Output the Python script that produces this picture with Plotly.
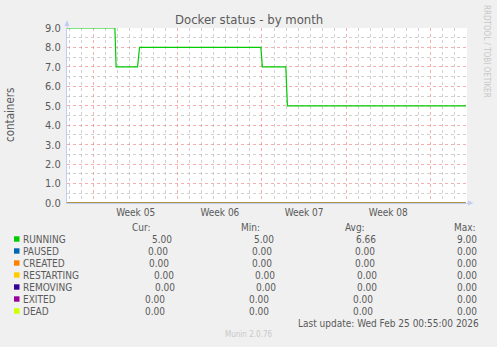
import plotly.graph_objects as go

# ---------------- data ----------------
series_names = ["RUNNING", "PAUSED", "CREATED", "RESTARTING", "REMOVING", "EXITED", "DEAD"]
series_colors = ["#00CC00", "#0066B3", "#FF8000", "#FFCC00", "#330099", "#990099", "#CCFF00"]

running_times = ["2026-01-23 19:00", "2026-01-27 18:30", "2026-01-27 21:00",
                 "2026-01-29 15:45", "2026-01-29 19:45", "2026-02-08 21:45",
                 "2026-02-09 00:45", "2026-02-10 23:30", "2026-02-11 02:45",
                 "2026-02-25 23:00"]
running_values = [9, 9, 7, 7, 8, 8, 7, 7, 5, 5]

zero_times = ["2026-01-23 19:00", "2026-02-25 23:00"]
zero_values = [0, 0]

cur_vals = ["5.00", "0.00", "0.00", "0.00", "0.00", "0.00", "0.00"]
min_vals = ["5.00", "0.00", "0.00", "0.00", "0.00", "0.00", "0.00"]
avg_vals = ["6.66", "0.00", "0.00", "0.00", "0.00", "0.00", "0.00"]
max_vals = ["9.00", "0.00", "0.00", "0.00", "0.00", "0.00", "0.00"]

x_range = ["2026-01-23 19:00", "2026-02-26 01:00"]
y_range = [0, 9]

title_text = "Docker status - by month"
y_title = "containers"
last_update = "Last update: Wed Feb 25 00:55:00 2026"
munin_ver = "Munin 2.0.76"
rrd_credit = "RRDTOOL / TOBI OETIKER"

# ---------------- layout geometry ----------------
W, H = 497, 347
L, R, T, B = 67, 467, 28, 203   # plot area in pixels


def px(x):
    return (x - L) / (R - L)


def py(y):
    return (B - y) / (B - T)


FONT = "DejaVu Sans Condensed, DejaVu Sans, sans-serif"
TXT = "#5a5a5a"
AXIS = "#C4CCF4"
MGRID = "rgba(235,110,110,0.55)"
GRID = "rgba(170,170,170,0.55)"

fig = go.Figure()

all_series = [(running_times, running_values)] + [(zero_times, zero_values)] * 6
for name, color, (xs, ys) in zip(series_names, series_colors, all_series):
    fig.add_trace(go.Scatter(x=xs, y=ys, mode="lines", name=name,
                             line=dict(color=color, width=1.2),
                             showlegend=False, hoverinfo="skip"))

fig.update_layout(
    width=W, height=H,
    margin=dict(l=L, r=W - R, t=T, b=H - B, pad=0),
    paper_bgcolor="#F0F0F0",
    plot_bgcolor="#FFFFFF",
    font=dict(family=FONT, size=10, color=TXT),
    showlegend=False,
)

fig.update_xaxes(
    type="date", range=x_range,
    dtick=7 * 86400000, tick0="2026-01-26",
    ticklabelmode="period", tickformat="Week %V",
    showgrid=True, gridcolor=MGRID, griddash="dot", gridwidth=1,
    minor=dict(dtick=86400000, tick0="2026-01-26", showgrid=True,
               gridcolor=GRID, griddash="dot", gridwidth=1),
    showline=True, linecolor=AXIS, linewidth=1,
    zeroline=False, ticks="", ticklen=0,
    tickfont=dict(family=FONT, size=10, color=TXT),
    fixedrange=True,
)
fig.update_yaxes(
    range=y_range, dtick=1, tick0=0, tickformat=".1f",
    showgrid=True, gridcolor=MGRID, griddash="dot", gridwidth=1,
    minor=dict(dtick=0.5, showgrid=True, gridcolor=GRID, griddash="dot", gridwidth=1),
    showline=True, linecolor=AXIS, linewidth=1,
    zeroline=False, ticks="outside", ticklen=3, tickcolor="#F0F0F0",
    tickfont=dict(family=FONT, size=11, color=TXT),
    fixedrange=True,
)

ann = []
shapes = []


def text(x, y, s, size=10, color=TXT, xanchor="left", angle=0):
    ann.append(dict(x=px(x), y=py(y), xref="paper", yref="paper", text=s,
                    showarrow=False, xanchor=xanchor, yanchor="middle",
                    textangle=angle, font=dict(family=FONT, size=size, color=color)))


def path(points):
    return "M " + " L ".join(f"{px(a):.5f},{py(b):.5f}" for a, b in points) + " Z"


# title, axis title, credits
text(249, 20, title_text, size=13, xanchor="center")
text(10, 115, y_title, size=11.5, xanchor="center", angle=-90)
text(487, 51, rrd_credit, size=8, color="#C8C8C8", xanchor="center", angle=90)

# axis extensions and arrows
shapes.append(dict(type="line", xref="paper", yref="paper",
                   x0=px(67), x1=px(67), y0=py(28), y1=py(24),
                   line=dict(color=AXIS, width=1)))
shapes.append(dict(type="line", xref="paper", yref="paper",
                   x0=px(467), x1=px(470), y0=py(203), y1=py(203),
                   line=dict(color=AXIS, width=1)))
shapes.append(dict(type="path", xref="paper", yref="paper",
                   path=path([(64.5, 26), (69.5, 26), (67, 20)]),
                   fillcolor=AXIS, line=dict(width=0)))
shapes.append(dict(type="path", xref="paper", yref="paper",
                   path=path([(468, 200.5), (468, 205.5), (473.5, 203)]),
                   fillcolor=AXIS, line=dict(width=0)))

# legend header
text(153, 227, "Cur:", xanchor="right")
text(262, 227, "Min:", xanchor="right")
text(367, 227, "Avg:", xanchor="right")
text(478, 227, "Max:", xanchor="right")

cur_right = [174, 170, 171, 176, 177, 167, 167]
min_right = [276, 274, 274, 277, 278, 271, 271]
avg_right = [378, 377, 377, 379, 379, 375, 375]
max_right = [479] * 7

for i, name in enumerate(series_names):
    yc = 239 + 12 * i
    shapes.append(dict(type="rect", xref="paper", yref="paper",
                       x0=px(14), x1=px(19.5), y0=py(yc + 2.7), y1=py(yc - 2.7),
                       fillcolor=series_colors[i], line=dict(width=0)))
    text(20.5, yc, name)
    text(cur_right[i], yc, cur_vals[i], xanchor="right")
    text(min_right[i], yc, min_vals[i], xanchor="right")
    text(avg_right[i], yc, avg_vals[i], xanchor="right")
    text(max_right[i], yc, max_vals[i], xanchor="right")

text(481, 323, last_update, xanchor="right")
text(248, 334, munin_ver, size=8, color="#C8C8C8", xanchor="center")

fig.update_layout(annotations=ann, shapes=shapes)
fig.write_html("out.html")
